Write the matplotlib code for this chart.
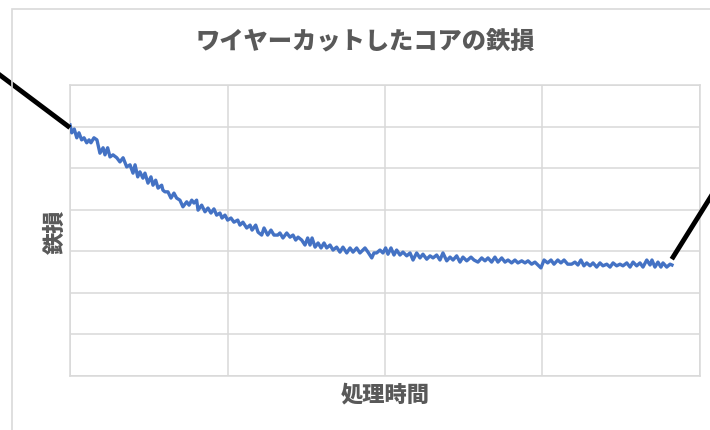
import matplotlib.pyplot as plt
from matplotlib.patches import Rectangle

plt.rcParams["font.family"] = ["Noto Sans CJK JP", "DejaVu Sans"]

# iron loss vs processing time (arbitrary units)
time = [
    0.00, 0.11, 0.27, 0.43, 0.57, 0.74, 0.89, 1.06, 1.21, 1.33, 1.52, 1.71,
    1.90, 2.10, 2.22, 2.39, 2.54, 2.73, 2.97, 3.17, 3.37, 3.60, 3.81, 4.00,
    4.13, 4.30, 4.44, 4.63, 4.76, 4.95, 5.14, 5.27, 5.44, 5.59, 5.82, 5.90,
    6.03, 6.22, 6.41, 6.60, 6.77, 6.98, 7.17, 7.41, 7.56, 7.73, 7.87, 8.04,
    8.13, 8.36, 8.57, 8.76, 8.95, 9.14, 9.31, 9.52, 9.65, 9.84, 10.01, 10.22,
    10.41, 10.65, 10.79, 10.98, 11.22, 11.43, 11.56, 11.79, 11.94, 12.17,
    12.32, 12.55, 12.76, 12.95,
    13.19, 13.33, 13.52, 13.76, 13.97, 14.16, 14.33, 14.48, 14.71, 14.92,
    15.09, 15.24, 15.37, 15.56, 15.75, 15.94, 16.13, 16.30, 16.51, 16.70,
    16.93, 17.14, 17.33, 17.57, 17.78, 17.97, 18.20, 18.41, 18.73, 18.92,
    19.16, 19.30,
    19.47, 19.68, 19.87, 20.04, 20.19, 20.38, 20.57, 20.74, 20.95, 21.14,
    21.38, 21.59, 21.78, 22.01, 22.22, 22.41, 22.65, 22.86, 23.05, 23.28,
    23.49, 23.68, 23.92, 24.13, 24.32, 24.55, 24.76, 24.95, 25.19, 25.46,
    25.65,
    25.90, 26.14, 26.35, 26.54, 26.77, 26.98, 27.17, 27.41, 27.62, 27.81,
    28.04, 28.25, 28.44, 28.68, 28.89, 29.08, 29.31, 29.52, 29.71, 29.90,
    30.10, 30.33, 30.54, 30.73, 30.97, 31.17, 31.37, 31.60,
    31.85, 32.06, 32.25, 32.44, 32.63, 32.81, 33.02, 33.21, 33.44, 33.65,
    33.84, 34.08, 34.29, 34.48, 34.71, 34.92, 35.11, 35.35, 35.56, 35.75,
    35.98, 36.19, 36.38, 36.62, 36.83, 36.95, 37.14, 37.33, 37.52, 37.65,
    37.89, 38.10, 38.22,
]
iron_loss = [
    6.04, 5.85, 5.94, 5.73, 5.85, 5.68, 5.73, 5.61, 5.68, 5.61, 5.73, 5.68,
    5.36, 5.49, 5.32, 5.49, 5.27, 5.32, 5.25, 5.15, 5.25, 5.03, 5.08, 4.88,
    5.08, 4.79, 4.91, 4.76, 4.88, 4.64, 4.79, 4.59, 4.71, 4.52, 4.59, 4.47,
    4.43, 4.43, 4.28, 4.40, 4.28, 4.23, 4.07, 4.19, 4.11, 4.23, 4.16, 4.23,
    3.99, 4.11, 3.95, 4.04, 3.92, 4.02, 3.87, 3.92, 3.80, 3.87, 3.75, 3.80,
    3.70, 3.75, 3.63, 3.70, 3.56, 3.63, 3.51, 3.63, 3.46, 3.39,
    3.56, 3.39, 3.51, 3.39,
    3.39, 3.44, 3.32, 3.44, 3.34, 3.39, 3.27, 3.34, 3.27, 3.15,
    3.32, 3.15, 3.32, 3.10, 3.20, 3.08, 3.20, 3.08, 3.15, 3.03,
    3.10, 2.98, 3.10, 2.96, 3.08, 2.98, 3.08, 2.96, 3.08, 2.98,
    2.84, 2.96,
    2.96, 3.03, 2.96, 3.08, 2.93, 3.08, 2.91, 3.03, 2.91, 2.98,
    2.89, 2.96, 2.79, 2.96, 2.84, 2.93, 2.81, 2.89, 2.84, 2.91,
    2.79, 2.96, 2.77, 2.86, 2.79, 2.89, 2.74, 2.86, 2.77, 2.86,
    2.79,
    2.74, 2.84, 2.77, 2.84, 2.74, 2.86, 2.74, 2.84, 2.74, 2.79,
    2.72, 2.79, 2.72, 2.77, 2.72, 2.77, 2.69, 2.74, 2.67, 2.60,
    2.79, 2.72, 2.79, 2.69, 2.79, 2.72, 2.79, 2.69,
    2.69, 2.74, 2.67, 2.79, 2.65, 2.72, 2.65, 2.72, 2.62, 2.72,
    2.65, 2.69, 2.62, 2.72, 2.65, 2.69, 2.65, 2.72, 2.62, 2.74,
    2.65, 2.72, 2.62, 2.79, 2.67, 2.79, 2.62, 2.74, 2.62, 2.72,
    2.62, 2.69, 2.67,
]

# black marker strokes that run off the plot area
left_stroke_x = [-6.0, -0.13]
left_stroke_y = [7.68, 6.01]
right_stroke_x = [38.29, 41.9]
right_stroke_y = [2.86, 5.05]

grid_gray = "#d9d9d9"
text_gray = "#595959"

fig = plt.figure(figsize=(7.1, 4.3), dpi=100)
ax = fig.add_axes([0.0986, 0.1256, 0.8873, 0.6767])

# chart area border (runs past the right and bottom edge of the picture)
fig.patches.append(
    Rectangle((12 / 710, -0.1), 1.0, 1.1 - 9 / 430, transform=fig.transFigure,
              fill=False, edgecolor=grid_gray, linewidth=1.2)
)

ax.plot(time, iron_loss, color="#4472c4", linewidth=2.4, solid_joinstyle="round",
        zorder=3)
ax.plot(left_stroke_x, left_stroke_y, color="black", linewidth=3.5, clip_on=False,
        zorder=4)
ax.plot(right_stroke_x, right_stroke_y, color="black", linewidth=3.5, clip_on=False,
        zorder=4)

ax.set_xlim(0, 40)
ax.set_ylim(0, 7)
ax.set_xticks([0, 10, 20, 30, 40])
ax.set_yticks(range(8))
ax.grid(True, color=grid_gray, linewidth=1.1)
ax.tick_params(length=0, labelbottom=False, labelleft=False)
for s in ax.spines.values():
    s.set_color(grid_gray)
    s.set_linewidth(1.1)

fig.text(0.515, 0.902, "ワイヤーカットしたコアの鉄損", ha="center", va="center",
         fontsize=17.5, fontweight="heavy", color=text_gray)
fig.text(0.543, 0.081, "処理時間", ha="center", va="center",
         fontsize=16, fontweight="heavy", color=text_gray)
fig.text(0.0775, 0.46, "鉄損", ha="center", va="center", rotation=90,
         fontsize=16, fontweight="heavy", color=text_gray)

plt.savefig("out.png", dpi=100)
